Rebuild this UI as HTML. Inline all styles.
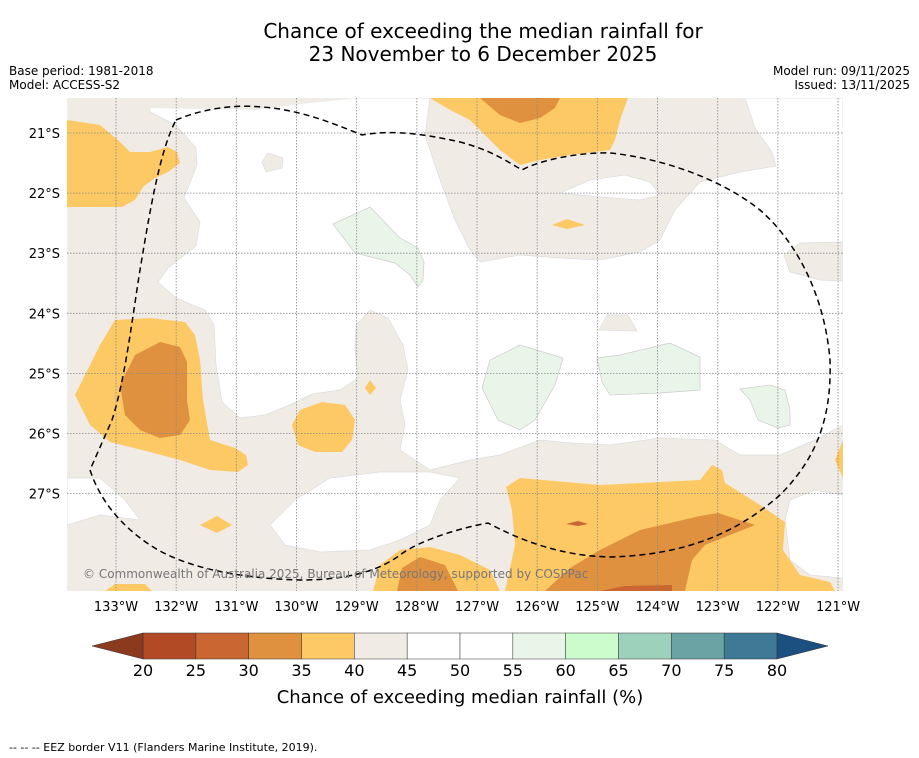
<!DOCTYPE html>
<html><head><meta charset="utf-8"><style>
body{margin:0;background:#fff;}
svg{display:block;font-family:"DejaVu Sans","Liberation Sans",sans-serif;}
</style></head><body>
<svg id="chart" width="919" height="758" viewBox="0 0 919 758" xmlns="http://www.w3.org/2000/svg">
<rect width="919" height="758" fill="#fff"/>
<text x="483" y="38" font-size="20" text-anchor="middle">Chance of exceeding the median rainfall for</text>
<text x="483" y="61" font-size="20" text-anchor="middle">23 November to 6 December 2025</text>
<text x="9" y="75" font-size="12">Base period: 1981-2018</text>
<text x="9" y="89" font-size="12">Model: ACCESS-S2</text>
<text x="910" y="75" font-size="12" text-anchor="end">Model run: 09/11/2025</text>
<text x="910" y="89" font-size="12" text-anchor="end">Issued: 13/11/2025</text>
<defs><clipPath id="mapclip"><rect x="67" y="98" width="776" height="493"/></clipPath></defs>
<g id="map" clip-path="url(#mapclip)">
<rect x="67" y="98" width="776" height="493" fill="#f0ebe5"/>
<path fill="#fff" stroke="#ddd" stroke-width="0.7" d="M148,98 L150,112 L176,125 L196,148 L197,165 L184,198 L200,222 L196,246 L168,268 L158,282 L176,298 L205,310 L214,325 L216,365 L222,402 L240,418 L265,415 L292,404 L312,394 L340,390 L358,378 L355,350 L356,325 L370,310 L388,318 L403,345 L408,370 L400,400 L405,425 L400,450 L430,470 L470,460 L500,455 L540,440 L570,443 L610,445 L660,438 L715,440 L740,455 L780,455 L815,440 L843,425 L843,98 L745,98 L755,128 L772,152 L776,166 L740,172 L700,182 L675,210 L660,240 L640,252 L600,260 L560,258 L520,255 L480,262 L470,250 L455,220 L440,180 L425,135 L430,98 Z"/>
<path fill="#f0ebe5" d="M148,98 L148,108 L257,110 L300,104 L360,98 Z"/>
<path fill="#fff" stroke="#ddd" stroke-width="0.7" d="M560,193 L590,180 L625,175 L650,182 L660,195 L640,200 L600,197 Z"/>
<path fill="#f0ebe5" stroke="#ddd" stroke-width="0.7" d="M843,242 L800,243 L784,255 L790,272 L820,280 L843,281 Z"/>
<path fill="#f0ebe5" stroke="#ddd" stroke-width="0.7" d="M262,162 L268,153 L283,158 L282,168 L266,172 Z"/>
<path fill="#f0ebe5" stroke="#ddd" stroke-width="0.7" d="M599,330 L607,315 L628,315 L637,331 Z"/>
<path fill="#fff" stroke="#ddd" stroke-width="0.7" d="M67,478 L100,478 L125,500 L140,520 L100,515 L67,525 Z"/>
<path fill="#fff" stroke="#ddd" stroke-width="0.7" d="M270,525 L295,500 L330,478 L380,472 L430,472 L460,478 L440,500 L430,525 L400,540 L370,550 L320,552 L285,545 Z"/>
<path fill="#fff" stroke="#ddd" stroke-width="0.7" d="M843,495 L815,490 L790,500 L785,520 L790,560 L810,575 L843,578 Z"/>
<path fill="#e9f5e9" stroke="#ccc" stroke-width="0.7" d="M333,224 L370,207 L400,238 L418,248 L424,262 L423,280 L418,287 L410,275 L395,263 L375,258 L355,253 Z"/>
<path fill="#e9f5e9" stroke="#ccc" stroke-width="0.7" d="M482,388 L490,360 L520,345 L563,358 L555,385 L535,420 L520,430 L498,420 Z"/>
<path fill="#e9f5e9" stroke="#ccc" stroke-width="0.7" d="M597,358 L620,355 L670,343 L700,357 L700,390 L660,393 L610,395 L602,382 Z"/>
<path fill="#e9f5e9" stroke="#ccc" stroke-width="0.7" d="M740,389 L770,385 L785,390 L790,410 L790,425 L778,428 L758,420 L750,400 Z"/>
<path fill="#fdc964" d="M67,120 L100,125 L118,140 L130,152 L150,152 L168,147 L177,152 L180,163 L168,172 L155,178 L143,187 L135,200 L122,207 L90,207 L67,207 Z"/>
<path fill="#fdc964" d="M430,98 L628,98 L620,120 L615,140 L610,150 L570,155 L540,160 L520,165 L500,150 L485,135 L470,120 L450,110 Z"/>
<path fill="#e0913f" d="M480,98 L560,98 L555,108 L540,118 L520,123 L500,115 Z"/>
<path fill="#fdc964" d="M75,395 L100,345 L115,320 L150,318 L185,322 L195,335 L200,360 L203,400 L210,440 L235,448 L246,455 L248,465 L238,472 L210,470 L180,460 L150,452 L110,442 L90,425 Z"/>
<path fill="#e0913f" d="M120,385 L135,355 L160,342 L180,347 L187,362 L187,400 L190,420 L180,435 L160,438 L140,430 L125,415 Z"/>
<path fill="#fdc964" d="M292,425 L300,410 L322,402 L345,405 L355,420 L352,440 L342,452 L315,452 L298,445 Z"/>
<path fill="#fdc964" d="M552,225 L567,219 L585,225 L567,229 Z"/>
<path fill="#fdc964" d="M200,525 L217,516 L232,525 L217,533 Z"/>
<path fill="#fdc964" d="M365,388 L370,380 L376,388 L370,395 Z"/>
<path fill="#fdc964" d="M843,440 L835,460 L843,478 Z"/>
<path fill="#fdc964" d="M505,591 L515,545 L512,510 L506,487 L520,478 L600,485 L700,480 L712,465 L722,470 L725,483 L760,505 L785,522 L783,550 L800,575 L830,582 L835,591 Z"/>
<path fill="#e0913f" d="M545,591 L570,568 L600,550 L640,530 L700,516 L718,513 L755,525 L735,533 L705,545 L692,560 L685,591 Z"/>
<path fill="#c96632" d="M600,591 L625,586 L672,585 L672,591 Z"/>
<path fill="#c96632" d="M566,524 L578,521 L588,524 L578,526 Z"/>
<path fill="#fdc964" d="M373,591 L380,565 L400,550 L430,547 L460,555 L490,570 L500,591 Z"/>
<path fill="#e0913f" d="M397,591 L402,568 L420,557 L445,565 L458,591 Z"/>
<path fill="#fdc964" d="M105,591 L115,584 L145,584 L152,591 Z"/>
<g id="grid"></g>
<path fill="none" stroke="#000" stroke-width="1.5" stroke-dasharray="6,4" d="M176,120 C200,110 230,104 262,107 C300,110 330,122 362,135 C390,130 420,133 460,142 C490,150 505,160 522,170 C540,160 580,152 610,153 C660,158 720,178 760,210 C800,245 825,300 830,360 C832,420 815,460 780,495 C740,530 690,555 610,557 C560,556 520,540 488,523 C460,528 420,540 400,555 C380,570 350,580 300,580 C230,578 180,565 150,545 C120,525 100,500 90,470 L112,420 C125,380 132,320 140,270 C150,210 160,150 176,120 Z"/>
<text x="83" y="578" font-size="12" fill="#777">© Commonwealth of Australia 2025, Bureau of Meteorology, supported by COSPPac</text>
</g>
<g id="axes"></g>
<g id="cbar"></g>
<text x="460" y="703" font-size="18" text-anchor="middle">Chance of exceeding median rainfall (%)</text>
<text x="9" y="751" font-size="11">--  --  -- EEZ border V11 (Flanders Marine Institute, 2019).</text>
</svg>
<script>
const lonTicks = [-133,-132,-131,-130,-129,-128,-127,-126,-125,-124,-123,-122,-121];
const latTicks = [-21,-22,-23,-24,-25,-26,-27];
const binEdges = [20,25,30,35,40,45,50,55,60,65,70,75,80];
const binColors = ["#b34a26","#c96632","#e0913f","#fdc964","#f0ebe5","#ffffff","#ffffff","#e9f5e9","#ccfccc","#9dd1bc","#6ba3a5","#3e7a96"];
const underColor = "#8c3a1e";
const overColor = "#1c5080";
const NS='http://www.w3.org/2000/svg';
function xLon(l){return 116+(l+133)*60.17;}
function yLat(l){return 133+(-21-l)*60.1;}
function xBin(v){return 143+(v-20)*(634/60);}
function mk(t,a,p){const e=document.createElementNS(NS,t);for(const k in a)e.setAttribute(k,a[k]);p.appendChild(e);return e;}
const grid=document.getElementById('grid'), axes=document.getElementById('axes'), cb=document.getElementById('cbar');
lonTicks.forEach(l=>{
  const x=xLon(l);
  const g=mk('line',{x1:x,x2:x,y1:98,y2:591,stroke:'#888','stroke-width':0.8,'stroke-dasharray':'1.5,1.5'},grid);
  
  
  const t=mk('text',{x:x,y:611,'font-size':13,'text-anchor':'middle'},axes);
  
  
  t.textContent=Math.abs(l)+'°W';
});
latTicks.forEach(l=>{
  const y=yLat(l);
  const g=mk('line',{x1:67,x2:843,y1:y,y2:y,stroke:'#888','stroke-width':0.8,'stroke-dasharray':'1.5,1.5'},grid);
  
  
  const t=mk('text',{x:60,y:y+5,'font-size':13,'text-anchor':'end'},axes);
  
  
  t.textContent=Math.abs(l)+'°S';
});
for(let i=0;i<binColors.length;i++){
  const x0=xBin(binEdges[i]),x1=xBin(binEdges[i+1]);
  const r=mk('rect',{x:x0,y:633,width:x1-x0,height:26,fill:binColors[i],stroke:'#333','stroke-width':0.5},cb);
  
  
}
const tl=mk('polygon',{points:`92,646 ${xBin(20)},633 ${xBin(20)},659`,fill:underColor,stroke:'#333','stroke-width':0.5},cb);


const tr=mk('polygon',{points:`828,646 ${xBin(80)},633 ${xBin(80)},659`,fill:overColor,stroke:'#333','stroke-width':0.5},cb);


binEdges.forEach(v=>{
  const t=mk('text',{x:xBin(v),y:676,'font-size':16,'text-anchor':'middle'},cb);
  
  
  t.textContent=v;
});
</script>
</body></html>
